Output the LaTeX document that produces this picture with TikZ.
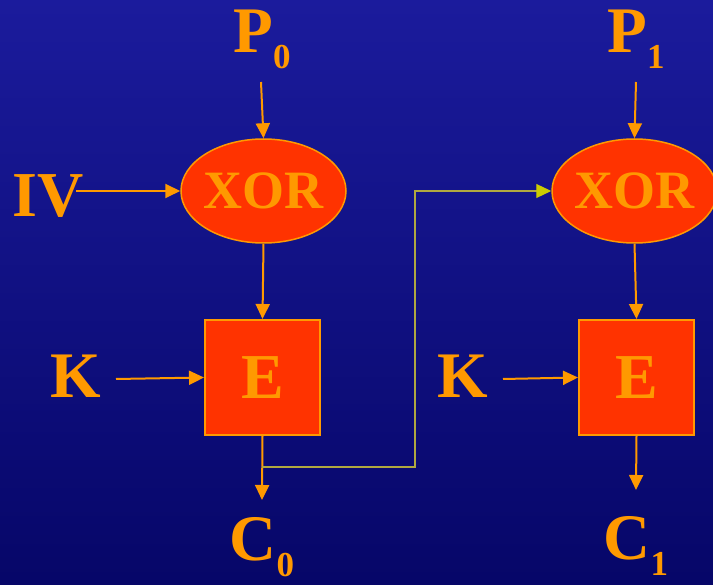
\documentclass[tikz,border=0pt]{standalone}
\usepackage{fontspec}
\setmainfont{Liberation Serif}
\usetikzlibrary{shapes.geometric,arrows.meta}
\definecolor{bgtop}{RGB}{27,27,156}
\definecolor{bgbot}{RGB}{6,6,104}
\definecolor{amber}{RGB}{255,153,0}
\definecolor{flame}{RGB}{255,51,0}
\definecolor{olive}{RGB}{176,168,64}
\definecolor{lime}{RGB}{204,204,0}
% lowered index digit after a big letter
\newcommand\subidx[1]{\raisebox{-16pt}{\fontsize{35}{35}\selectfont #1}}
\begin{document}
\begin{tikzpicture}[x=1pt,y=-1pt,
  lbl/.style={text=amber,inner sep=0pt,anchor=base,font=\bfseries\fontsize{65}{65}\selectfont},
  xorbox/.style={ellipse,fill=flame,draw=amber,line width=1.5pt,minimum width=165pt,minimum height=104pt,inner xsep=-30pt,inner ysep=0pt,text=amber,font=\bfseries\fontsize{54}{54}\selectfont},
  encbox/.style={rectangle,fill=flame,draw=amber,line width=2pt,minimum width=115pt,minimum height=115pt,inner sep=0pt,text=amber,font=\bfseries\fontsize{64}{64}\selectfont},
  arr/.style={draw=amber,line width=2pt,-{Triangle[length=15pt,width=14pt]}},
  feed/.style={draw=olive,line width=1.2pt,-{Triangle[length=15pt,width=14pt,color=lime]}}]

% background
\shade[top color=bgtop,bottom color=bgbot] (0,0) rectangle (713,585);
\useasboundingbox (0,0) rectangle (713,585);

% blocks
\node[xorbox] (x1) at (263.5,191) {XOR};
\node[xorbox] (x2) at (634.5,191) {XOR};
\node[encbox] (e1) at (262.5,377.5) {E};
\node[encbox] (e2) at (636.5,377.5) {E};

% labels
\node[lbl] (p0) at (262,53) {P\subidx{0}};
\node[lbl] (p1) at (636,53) {P\subidx{1}};
\node[lbl] (c0) at (262,561) {C\subidx{0}};
\node[lbl] (c1) at (636,559) {C\subidx{1}};
\node[lbl,font=\bfseries\fontsize{64}{64}\selectfont] (iv) at (48,217) {IV};
\node[lbl] (k1) at (76,398) {K};
\node[lbl] (k2) at (463,398) {K};

% connector end points
\coordinate (p0a) at (261,82);
\coordinate (p1a) at (636,82);
\coordinate (iva) at (76,191);
\coordinate (k1a) at (116,379);
\coordinate (k2a) at (503,379);
\coordinate (c0a) at (262,500);
\coordinate (c1a) at (636,490);
\coordinate (tap) at (262,467);
\coordinate (turn) at (415,300);

% connectors
\draw[arr] (p0a) -- (x1.north);
\draw[arr] (iva) -- (x1.west);
\draw[arr] (x1.south) -- (e1.north);
\draw[arr] (k1a) -- (e1.west);
\draw[arr] (e1.south) -- (c0a);
\draw[arr] (p1a) -- (x2.north);
\draw[arr] (x2.south) -- (e2.north);
\draw[arr] (k2a) -- (e2.west);
\draw[arr] (e2.south) -- (c1a);
\draw[feed] (tap) -| (turn) |- (x2.west);
\end{tikzpicture}
\end{document}
